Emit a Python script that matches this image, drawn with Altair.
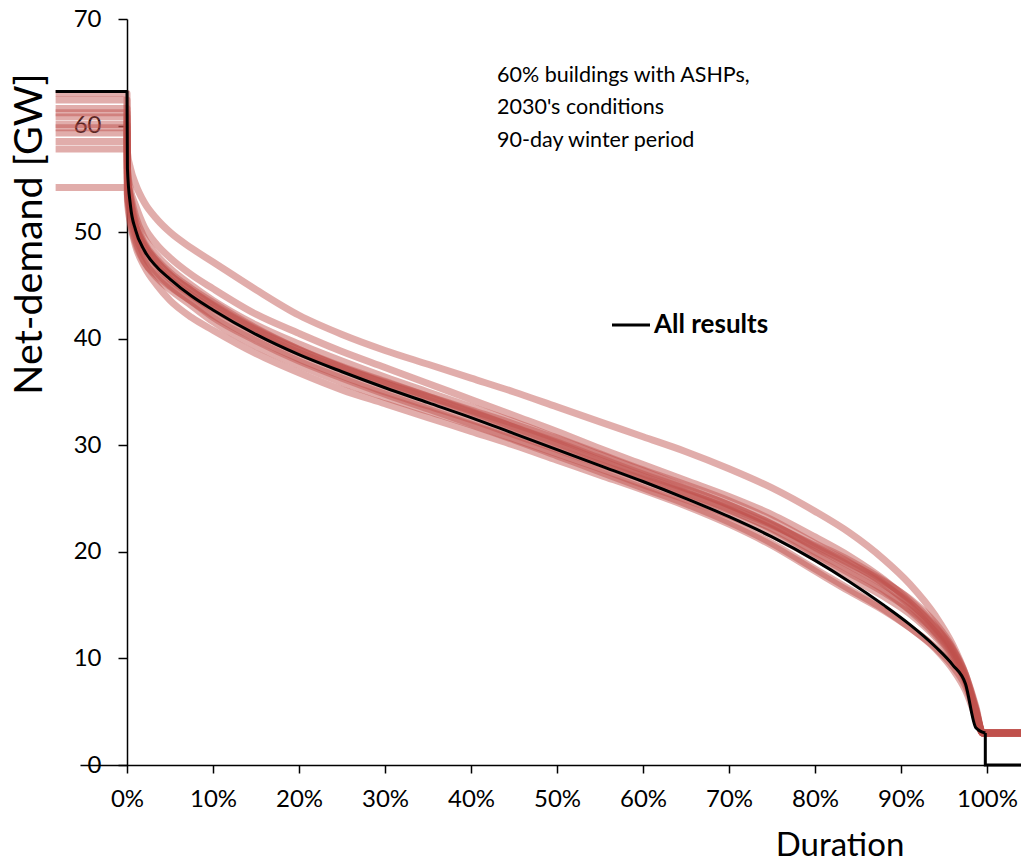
import altair as alt
import pandas as pd

# ---- data ----
x_start = -8.3
duration_pct = [0.05, 0.4, 1, 2, 3.5, 5, 7.5, 10, 15, 20, 25, 30, 35, 40, 45, 50,
                55, 60, 65, 70, 75, 80, 84, 88, 91, 94, 96, 97.5, 98.7]
run_duration_pct = duration_pct + [99.5, 104.5]

all_results_peak = 63.2
all_results = [56.0, 52.5, 50.2, 48.3, 46.7, 45.6, 44.0, 42.7, 40.4, 38.5, 36.9, 35.4,
               34.0, 32.6, 31.1, 29.6, 28.1, 26.6, 25.0, 23.3, 21.4, 19.2, 17.2, 15.0,
               13.2, 11.1, 9.4, 7.6, 3.5]
all_results_tail_x = [99.8, 99.8, 104.5]
all_results_tail_y = [3.0, 0.0, 0.0]

run_peaks = [58.5, 61.6, 60.1, 62.4, 59.3, 57.8, 63.0, 60.8, 61.2, 54.2, 59.8]
run_a = [57.5, 56.0, 54.5, 52.8, 51.2, 50.0, 48.5, 47.2, 44.6, 42.2, 40.4, 38.9, 37.6, 36.3, 35.0, 33.6, 32.2, 30.8, 29.4, 27.8, 26.0, 23.8, 21.8, 19.3, 17.0, 14.0, 11.3, 8.5, 5.5, 3.0, 3.0]
run_b = [56.0, 54.0, 52.5, 50.5, 48.8, 47.6, 46.0, 44.7, 42.3, 40.5, 38.8, 37.3, 35.8, 34.3, 32.8, 31.3, 29.7, 28.2, 26.7, 25.2, 23.5, 21.4, 19.6, 17.4, 15.3, 12.8, 10.6, 8.0, 5.0, 3.0, 3.0]
run_c = [55.0, 53.5, 51.5, 49.5, 47.8, 46.6, 45.0, 43.6, 41.3, 39.5, 37.9, 36.4, 35.0, 33.6, 32.2, 30.7, 29.2, 27.7, 26.3, 24.8, 23.0, 20.8, 19.2, 17.3, 15.5, 13.0, 10.8, 8.3, 5.2, 3.0, 3.0]
run_d = [55.0, 52.8, 50.6, 48.8, 47.2, 46.0, 44.5, 43.2, 40.9, 39.0, 37.4, 36.0, 34.6, 33.2, 31.7, 30.2, 28.6, 27.1, 25.6, 24.0, 22.1, 19.8, 18.0, 16.2, 14.6, 12.5, 10.5, 8.2, 5.0, 3.0, 3.0]
run_e = [54.0, 51.5, 49.3, 47.3, 45.7, 44.6, 43.1, 41.6, 39.3, 37.5, 35.9, 34.5, 33.2, 31.9, 30.5, 29.0, 27.5, 26.0, 24.5, 22.8, 20.8, 18.4, 16.5, 14.6, 12.9, 10.9, 9.0, 7.0, 4.5, 3.0, 3.0]
run_f = [53.0, 50.8, 48.7, 46.8, 45.0, 43.6, 42.0, 40.8, 38.6, 36.8, 35.2, 33.9, 32.6, 31.3, 30.0, 28.6, 27.2, 25.8, 24.3, 22.6, 20.6, 18.2, 16.3, 14.5, 12.9, 11.0, 9.3, 7.4, 4.8, 3.0, 3.0]
run_g = [56.0, 53.0, 50.5, 48.5, 46.8, 45.6, 44.1, 42.8, 40.6, 38.7, 37.2, 35.8, 34.5, 33.1, 31.7, 30.3, 28.8, 27.3, 25.9, 24.4, 22.6, 20.4, 18.7, 16.9, 15.2, 12.9, 10.9, 8.5, 5.3, 3.0, 3.0]
run_h = [54.5, 52.0, 49.8, 47.8, 46.2, 45.0, 43.5, 42.2, 40.0, 38.1, 36.5, 35.0, 33.7, 32.4, 31.0, 29.6, 28.2, 26.8, 25.4, 23.9, 22.2, 20.0, 18.3, 16.4, 14.5, 12.2, 10.2, 8.0, 5.0, 3.0, 3.0]
run_i = [55.5, 53.2, 51.0, 49.0, 47.4, 46.2, 44.7, 43.4, 41.0, 39.0, 37.3, 35.8, 34.3, 32.9, 31.5, 30.0, 28.4, 26.9, 25.5, 24.1, 22.5, 20.6, 19.0, 17.0, 15.0, 12.4, 10.3, 8.0, 5.0, 3.0, 3.0]
run_j = [53.5, 51.0, 49.0, 47.2, 45.9, 44.9, 43.5, 42.0, 39.8, 37.9, 36.3, 34.8, 33.4, 32.0, 30.6, 29.2, 27.8, 26.3, 24.9, 23.4, 21.6, 19.4, 17.6, 15.8, 14.2, 12.0, 10.0, 7.8, 4.8, 3.0, 3.0]
run_k = [53.5, 52.0, 50.5, 48.8, 47.2, 46.0, 44.5, 43.1, 40.8, 38.9, 37.3, 35.9, 34.6, 33.3, 32.0, 30.6, 29.1, 27.6, 26.0, 24.4, 22.6, 20.5, 18.9, 17.2, 15.6, 13.3, 11.0, 8.4, 5.2, 3.0, 3.0]
runs = [run_a, run_b, run_c, run_d, run_e, run_f, run_g, run_h, run_i, run_j, run_k]

y_ticks = [0, 10, 20, 30, 40, 50, 60, 70]
x_ticks = [0, 10, 20, 30, 40, 50, 60, 70, 80, 90, 100]
note_lines = ["60% buildings with ASHPs,", "2030's conditions", "90-day winter period"]
legend_label = "All results"

# ---- tables ----
rows = []
for k, (peak, vals) in enumerate(zip(run_peaks, runs)):
    xs = [x_start, 0] + run_duration_pct
    ys = [peak, peak] + vals
    for i, (xx, yy) in enumerate(zip(xs, ys)):
        rows.append({"series": f"run{k}", "i": i, "x": xx, "y": yy})
runs_df = pd.DataFrame(rows)

bx = [x_start, 0] + duration_pct + all_results_tail_x[:1]
by = [all_results_peak, all_results_peak] + all_results + all_results_tail_y[:1]
black_df = pd.DataFrame({"i": range(len(bx)), "x": bx, "y": by})
tail_df = pd.DataFrame({"i": range(len(all_results_tail_x)),
                        "x": all_results_tail_x, "y": all_results_tail_y})

FONT = "Lato"
W, H = 941, 746
xscale = alt.Scale(domain=[-5.465, 103.95], nice=False, zero=False)
yscale = alt.Scale(domain=[0, 70], nice=False)

x_axis = alt.Axis(values=x_ticks, labelExpr="datum.value + '%'", title=None,
                  grid=False, domainColor="black", tickColor="black", tickSize=8,
                  domainWidth=1.5, tickWidth=1.5,
                  labelFont=FONT, labelFontSize=24, labelColor="black", labelPadding=14)
y_axis = alt.Axis(values=y_ticks, title=None, grid=False, offset=-47,
                  domainColor="black", tickColor="black", tickSize=9,
                  domainWidth=1.5, tickWidth=1.5,
                  labelFont=FONT, labelFontSize=24, labelColor="black", labelPadding=17)

red = alt.Chart(runs_df).mark_line(color="#C0504D", opacity=0.47, strokeWidth=7,
                                   strokeCap="butt", strokeJoin="round",
                                   interpolate="monotone").encode(
    x=alt.X("x:Q", scale=xscale, axis=x_axis),
    y=alt.Y("y:Q", scale=yscale, axis=y_axis),
    detail="series:N",
    order="i:Q",
)

black = alt.Chart(black_df).mark_line(color="black", strokeWidth=3,
                                      strokeJoin="round", interpolate="monotone").encode(
    x=alt.X("x:Q", scale=xscale),
    y=alt.Y("y:Q", scale=yscale),
    order="i:Q",
)
black_tail = alt.Chart(tail_df).mark_line(color="black", strokeWidth=3,
                                          strokeJoin="miter").encode(
    x=alt.X("x:Q", scale=xscale),
    y=alt.Y("y:Q", scale=yscale),
    order="i:Q",
)

dummy = pd.DataFrame({"a": [0]})
note = alt.Chart(dummy).mark_text(align="left", baseline="alphabetic", font=FONT,
                                  fontSize=21.5, lineHeight=32.4, color="black").encode(
    x=alt.value(417), y=alt.value(63), text=alt.value(note_lines))

leg_line = alt.Chart(dummy).mark_rule(color="black", strokeWidth=3).encode(
    x=alt.value(532), x2=alt.value(570), y=alt.value(306))
leg_text = alt.Chart(dummy).mark_text(align="left", baseline="middle", font=FONT,
                                      fontSize=26, fontWeight="bold", color="black").encode(
    x=alt.value(574), y=alt.value(306), text=alt.value(legend_label))

ytitle = alt.Chart(dummy).mark_text(angle=270, align="center", baseline="middle",
                                    font=FONT, fontSize=39.5, color="black").encode(
    x=alt.value(-50), y=alt.value(215), text=alt.value("Net-demand [GW]"))
xtitle = alt.Chart(dummy).mark_text(align="center", baseline="middle",
                                    font=FONT, fontSize=33, color="black").encode(
    x=alt.value(760), y=alt.value(827), text=alt.value("Duration"))

chart = alt.layer(red, black, black_tail, note, leg_line, leg_text, ytitle, xtitle).properties(
    width=W, height=H,
    autosize=alt.AutoSizeParams(type="none"),
    padding={"left": 80, "top": 19, "right": 0, "bottom": 100},
    background="white",
).configure_view(stroke=None)

chart.save("out.html", embed_options={"renderer": "svg", "actions": False})
